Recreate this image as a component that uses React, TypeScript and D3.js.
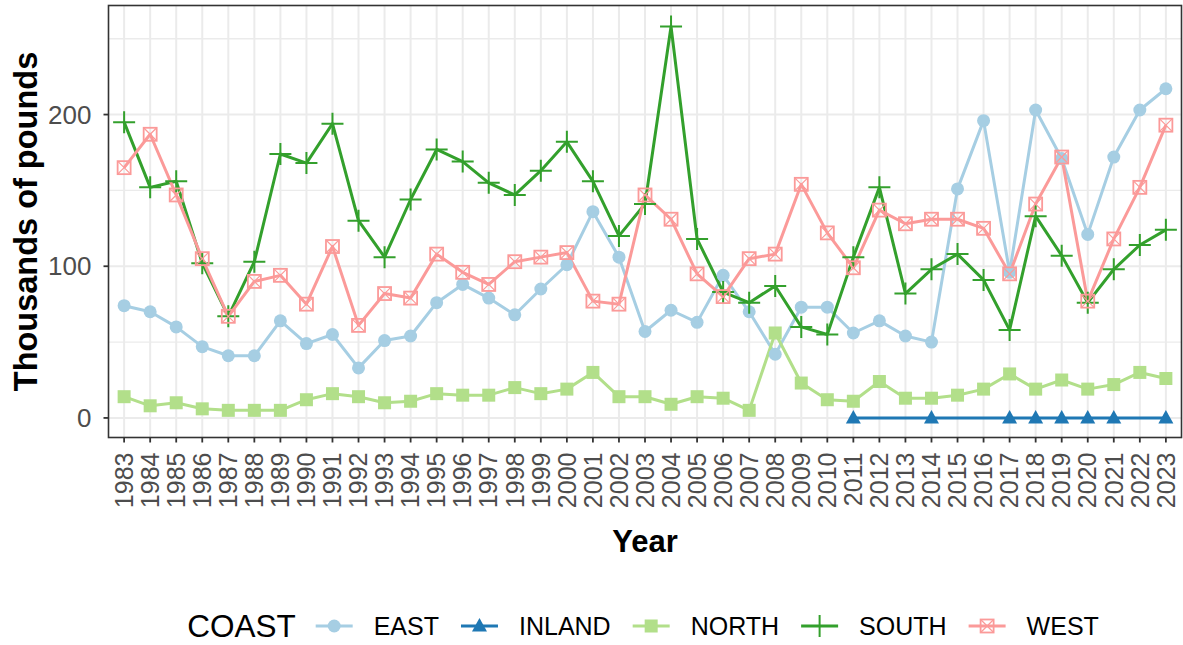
import React, { useEffect, useRef } from 'react';
import * as d3 from 'd3';

const years = [1983, 1984, 1985, 1986, 1987, 1988, 1989, 1990, 1991, 1992, 1993, 1994, 1995, 1996, 1997, 1998, 1999, 2000, 2001, 2002, 2003, 2004, 2005, 2006, 2007, 2008, 2009, 2010, 2011, 2012, 2013, 2014, 2015, 2016, 2017, 2018, 2019, 2020, 2021, 2022, 2023];

const eastValues = [74, 70, 60, 47, 41, 41, 64, 49, 55, 33, 51, 54, 76, 88, 79, 68, 85, 101, 136, 106, 57, 71, 63, 94, 70, 42, 73, 73, 56, 64, 54, 50, 151, 196, 96, 203, 171, 121, 172, 203, 217];
const inlandValues: (number | null)[] = [null, null, null, null, null, null, null, null, null, null, null, null, null, null, null, null, null, null, null, null, null, null, null, null, null, null, null, null, 0, null, null, 0, null, null, 0, 0, 0, 0, 0, null, 0];
const northValues = [14, 8, 10, 6, 5, 5, 5, 12, 16, 14, 10, 11, 16, 15, 15, 20, 16, 19, 30, 14, 14, 9, 14, 13, 5, 56, 23, 12, 11, 24, 13, 13, 15, 19, 29, 19, 25, 19, 22, 30, 26];
const southValues = [195, 152, 156, 102, 67, 103, 174, 168, 194, 130, 106, 144, 177, 169, 155, 147, 163, 182, 156, 120, 141, 258, 118, 83, 76, 87, 60, 55, 106, 152, 82, 98, 108, 91, 58, 133, 107, 76, 98, 114, 124];
const westValues = [165, 187, 147, 105, 67, 90, 94, 75, 113, 61, 82, 79, 108, 96, 88, 103, 106, 109, 77, 75, 147, 131, 95, 80, 105, 108, 154, 122, 99, 137, 128, 131, 131, 125, 95, 141, 172, 77, 118, 152, 193];

const coastNames = ['EAST', 'INLAND', 'NORTH', 'SOUTH', 'WEST'];
const coastColors = ['#A6CEE3', '#1F78B4', '#B2DF8A', '#33A02C', '#FB9A99'];
const coastShapes = ['circle', 'triangle', 'square', 'plus', 'squarecross'];
const yTicks = [0, 100, 200];
const yMinorTicks = [50, 150, 250];

const FONT = "'Liberation Sans', Arial, Helvetica, sans-serif";

function drawShape(g: any, shape: string, cx: number, cy: number, color: string) {
  if (shape === 'circle') {
    g.append('circle').attr('cx', cx).attr('cy', cy).attr('r', 6.5).attr('fill', color);
  } else if (shape === 'square') {
    const s = 13;
    g.append('rect').attr('x', cx - s / 2).attr('y', cy - s / 2).attr('width', s).attr('height', s).attr('fill', color);
  } else if (shape === 'triangle') {
    const h = 8;
    g.append('path')
      .attr('d', `M${cx},${cy - h} L${cx + 7.5},${cy + 5.5} L${cx - 7.5},${cy + 5.5} Z`)
      .attr('fill', color);
  } else if (shape === 'plus') {
    const r = 11;
    g.append('path')
      .attr('d', `M${cx - r},${cy} H${cx + r} M${cx},${cy - r} V${cy + r}`)
      .attr('stroke', color).attr('stroke-width', 2).attr('fill', 'none');
  } else if (shape === 'squarecross') {
    const s = 6.5;
    g.append('rect').attr('x', cx - s).attr('y', cy - s).attr('width', 2 * s).attr('height', 2 * s)
      .attr('fill', 'none').attr('stroke', color).attr('stroke-width', 1.8);
    g.append('path')
      .attr('d', `M${cx - s},${cy - s} L${cx + s},${cy + s} M${cx + s},${cy - s} L${cx - s},${cy + s}`)
      .attr('stroke', color).attr('stroke-width', 1.2).attr('fill', 'none');
  }
}

export default function App() {
  const ref = useRef<SVGSVGElement>(null);

  useEffect(() => {
    const svg = d3.select(ref.current);
    svg.selectAll('*').remove();

    const left = 108.5, right = 1181.5, top = 5.5, bottom = 437.5;
    const x = d3.scaleLinear().domain([1982.4, 2023.6]).range([left, right]);
    const y = d3.scaleLinear().domain([-12.9, 271.9]).range([bottom, top]);

    const series = [eastValues, inlandValues, northValues, southValues, westValues];

    svg.append('rect').attr('x', left).attr('y', top).attr('width', right - left).attr('height', bottom - top).attr('fill', '#fff');

    const grid = svg.append('g');
    yMinorTicks.forEach(v => {
      grid.append('line').attr('x1', left).attr('x2', right).attr('y1', y(v)).attr('y2', y(v))
        .attr('stroke', '#EBEBEB').attr('stroke-width', 1.4);
    });
    yTicks.forEach(v => {
      grid.append('line').attr('x1', left).attr('x2', right).attr('y1', y(v)).attr('y2', y(v))
        .attr('stroke', '#EBEBEB').attr('stroke-width', 2);
    });
    years.forEach(v => {
      grid.append('line').attr('x1', x(v)).attr('x2', x(v)).attr('y1', top).attr('y2', bottom)
        .attr('stroke', '#EBEBEB').attr('stroke-width', 2);
    });

    const lineGen = d3.line<[number, number]>().x(d => x(d[0])).y(d => y(d[1]));
    series.forEach((vals, i) => {
      const pts: [number, number][] = [];
      vals.forEach((v, j) => { if (v !== null && v !== undefined) pts.push([years[j], v as number]); });
      svg.append('path').attr('d', lineGen(pts) as string).attr('fill', 'none')
        .attr('stroke', coastColors[i]).attr('stroke-width', 3).attr('stroke-linejoin', 'round');
    });

    series.forEach((vals, i) => {
      const g = svg.append('g');
      vals.forEach((v, j) => {
        if (v === null || v === undefined) return;
        drawShape(g, coastShapes[i], x(years[j]), y(v as number), coastColors[i]);
      });
    });

    svg.append('rect').attr('x', left).attr('y', top).attr('width', right - left).attr('height', bottom - top)
      .attr('fill', 'none').attr('stroke', '#333333').attr('stroke-width', 1.6);

    yTicks.forEach(v => {
      svg.append('line').attr('x1', left - 5).attr('x2', left).attr('y1', y(v)).attr('y2', y(v))
        .attr('stroke', '#333333').attr('stroke-width', 1.8);
      svg.append('text').attr('x', left - 17).attr('y', y(v)).attr('dy', '0.35em')
        .attr('text-anchor', 'end').attr('font-family', FONT).attr('font-size', 26)
        .attr('fill', '#4D4D4D').text(String(v));
    });

    years.forEach(v => {
      svg.append('line').attr('x1', x(v)).attr('x2', x(v)).attr('y1', bottom).attr('y2', bottom + 5)
        .attr('stroke', '#333333').attr('stroke-width', 1.8);
      svg.append('text')
        .attr('transform', `translate(${x(v)},${bottom + 15}) rotate(-90)`)
        .attr('dy', '0.35em')
        .attr('text-anchor', 'end').attr('font-family', FONT).attr('font-size', 25)
        .attr('fill', '#4D4D4D').text(String(v));
    });

    svg.append('text').attr('x', (left + right) / 2).attr('y', 552).attr('text-anchor', 'middle')
      .attr('font-family', FONT).attr('font-size', 31).attr('font-weight', 'bold').attr('fill', '#000')
      .text('Year');
    svg.append('text')
      .attr('transform', `translate(37,${(top + bottom) / 2}) rotate(-90)`)
      .attr('text-anchor', 'middle')
      .attr('font-family', FONT).attr('font-size', 32.5).attr('font-weight', 'bold').attr('fill', '#000')
      .text('Thousands of pounds');

    const legend = svg.append('g');
    const ly = 626;
    const title = legend.append('text').attr('x', 0).attr('y', ly).attr('dy', '0.36em')
      .attr('font-family', FONT).attr('font-size', 31.5).attr('fill', '#000').text('COAST');
    let cx = (title.node() as SVGTextElement).getComputedTextLength() + 20;
    const keyW = 37;
    coastNames.forEach((name, i) => {
      const k = legend.append('g');
      k.append('line').attr('x1', cx).attr('x2', cx + keyW).attr('y1', ly).attr('y2', ly)
        .attr('stroke', coastColors[i]).attr('stroke-width', 3);
      drawShape(k, coastShapes[i], cx + keyW / 2, ly, coastColors[i]);
      cx += keyW + 21;
      const t = legend.append('text').attr('x', cx).attr('y', ly).attr('dy', '0.36em')
        .attr('font-family', FONT).attr('font-size', 25).attr('fill', '#000').text(name);
      cx += (t.node() as SVGTextElement).getComputedTextLength();
      if (i < coastNames.length - 1) cx += 22;
    });
    const total = cx;
    legend.attr('transform', `translate(${643 - total / 2},0)`);
  }, []);

  return (
    <svg ref={ref} width={1183} height={645}
      style={{ position: 'absolute', left: 0, top: 0, background: '#fff' }} />
  );
}
